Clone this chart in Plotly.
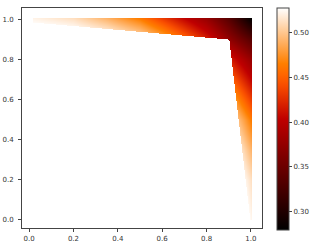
import numpy as np
import plotly.graph_objects as go

# ---- data ----
# band geometry: outer edges and inner boundary polyline
outer_top_y = 1.007
outer_right_x = 1.003
left_tip_x = 0.014
bottom_tip_y = 0.0
inner_top_x = [0.014, 0.9, 1.003]
inner_top_y = [0.985, 0.9, 0.9]
inner_right_y = [0.0, 0.9]
inner_right_x = [0.995, 0.9]

# colour values sampled along the band (station = x on top arm, y on right arm)
stations = [0.0, 0.2, 0.35, 0.5, 0.6, 0.7, 0.8, 0.9, 1.0]
outer_vals = [0.523, 0.512, 0.490, 0.462, 0.432, 0.403, 0.376, 0.335, 0.279]
inner_vals = [0.526, 0.523, 0.513, 0.496, 0.473, 0.445, 0.415, 0.374, 0.335]

cbar_ticks = [0.30, 0.35, 0.40, 0.45, 0.50]
x_ticks = [0.0, 0.2, 0.4, 0.6, 0.8, 1.0]
y_ticks = [0.0, 0.2, 0.4, 0.6, 0.8, 1.0]
zmin, zmax = 0.279, 0.528

# ---- rendering grid (shading of the band) ----
gx = np.arange(0.0, 1.012, 1 / 222)
gy = np.arange(-0.01, 1.016, 1 / 201)
X, Y = np.meshgrid(gx, gy)

it = np.interp(X, inner_top_x, inner_top_y)
ir = np.interp(Y, inner_right_y, inner_right_x)

top_arm = (Y >= 0.9) & (X >= left_tip_x) & (X <= outer_right_x) & (Y <= outer_top_y) & (Y >= it)
right_arm = (Y < 0.9) & (Y >= bottom_tip_y) & (X <= outer_right_x) & (X >= ir)

t_top = np.clip((outer_top_y - Y) / np.maximum(outer_top_y - it, 1e-6), 0, 1)
v_top = np.interp(X, stations, outer_vals) * (1 - t_top) + np.interp(X, stations, inner_vals) * t_top

t_r = np.clip((outer_right_x - X) / np.maximum(outer_right_x - ir, 1e-6), 0, 1)
v_r = np.interp(Y, stations, outer_vals) * (1 - t_r) + np.interp(Y, stations, inner_vals) * t_r

Z = np.full(X.shape, np.nan)
Z[top_arm] = v_top[top_arm]
Z[right_arm] = v_r[right_arm]
zlist = [[None if np.isnan(v) else round(float(v), 4) for v in row] for row in Z]

# gist_heat colormap
cs = []
for f in np.linspace(0, 1, 21):
    r = min(1, 1.5 * f); g = min(1, max(0, 2 * f - 1)); b = min(1, max(0, 4 * f - 3))
    cs.append([float(f), f"rgb({int(r*255)},{int(g*255)},{int(b*255)})"])

fig = go.Figure(go.Heatmap(
    x=gx, y=gy, z=zlist, zmin=zmin, zmax=zmax, colorscale=cs, zsmooth=False,
    hoverinfo="skip",
    colorbar=dict(
        x=(277 - 22) / 240, xanchor="left", xpad=0, ypad=0,
        thickness=12, lenmode="pixels", len=222, y=0.4955, yanchor="middle",
        outlinewidth=1, outlinecolor="#444",
        tickvals=cbar_ticks, ticktext=[f"{v:.2f}" for v in cbar_ticks],
        ticks="outside", ticklen=3, tickcolor="#444",
        tickfont=dict(size=7, color="#333"),
    ),
))

axis_common = dict(showgrid=False, zeroline=False, showline=True, mirror=True,
                   linecolor="#444", linewidth=1, ticks="outside", ticklen=3,
                   tickcolor="#444", tickfont=dict(size=7, color="#333"))
fig.update_xaxes(range=[-0.032, 1.05], tickvals=x_ticks, ticklabelstandoff=1,
                 ticktext=[f"{v:.1f}" for v in x_ticks], **axis_common)
fig.update_yaxes(range=[-0.04, 1.055], tickvals=y_ticks, ticklabelstandoff=3,
                 ticktext=[f"{v:.1f}" for v in y_ticks], **axis_common)

fig.update_layout(
    width=313, height=249, margin=dict(l=22, r=51, t=8, b=21, autoexpand=False),
    paper_bgcolor="white", plot_bgcolor="white",
    font=dict(family="DejaVu Sans", size=7, color="#333"),
)
fig.write_html("out.html", config={"displayModeBar": False},
               post_script="document.body.style.margin='0';document.body.style.overflow='hidden';")
